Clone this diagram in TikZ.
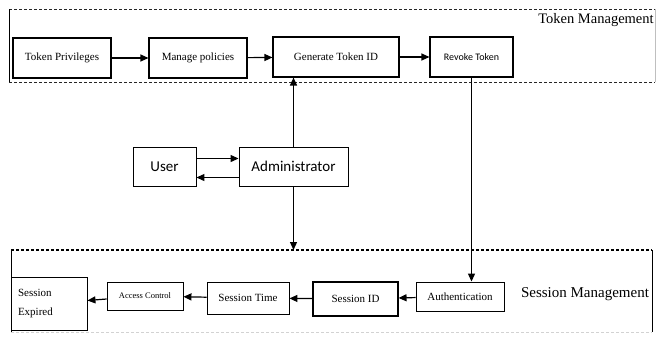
\documentclass[tikz,border=0pt]{standalone}
\usepackage{fontspec}
\setmainfont{Liberation Serif}
\newfontfamily\calibrifont{Carlito}
\usetikzlibrary{arrows.meta}

\begin{document}
\begin{tikzpicture}[
    x=1pt,y=-1pt,
    box/.style={draw,line width=1.1pt,inner sep=0pt,
        font=\fontsize{11}{13}\selectfont},
    arr/.style={-{Triangle[length=8pt,width=7pt]},line width=1.2pt},
    title/.style={inner sep=0pt,font=\fontsize{14.5}{17}\selectfont}]
    \useasboundingbox (0,0) rectangle (656,338);
    % token management frame
    \draw[densely dashed,gray!30!black,line width=.8pt]
        (9,9) -- (655,9) (9,82) -- (655,82);
    \draw[line width=.8pt] (9,9) -- (9,82);
    \draw[gray!50,line width=.6pt] (655,9) -- (655,82);
    % session management frame
    \draw[line width=1.2pt,dash pattern=on 3pt off 2pt] (11,250) -- (652,250);
    \draw[line width=.8pt] (11,250) -- (11,332) (652,250) -- (652,332);
    \draw[gray!35,densely dashed] (11,332) -- (652,332);
    \coordinate (sestop) at (0,250);
    % token row
    \node[box,minimum width=98pt,minimum height=40pt] (tokpriv) at (62,58)
        {Token Privileges};
    \node[box,minimum width=98pt,minimum height=40pt] (manpol) at (198,58)
        {Manage policies};
    \node[box,minimum width=126pt,minimum height=40pt] (gentok) at (336,57)
        {Generate Token ID};
    \node[box,minimum width=83pt,minimum height=40pt,
        font=\calibrifont\fontsize{10}{12}\selectfont] (revtok) at (471.5,57)
        {Revoke Token};
    \node[title] (tokman) at (596,20) {Token Management};
    % user and administrator
    \node[box,line width=.9pt,minimum width=63pt,minimum height=39pt,
        font=\calibrifont\fontsize{15}{18}\selectfont] (user) at (164.5,166.5) {User};
    \node[box,line width=.9pt,minimum width=109pt,minimum height=39pt,
        font=\calibrifont\fontsize{15}{18}\selectfont] (admin) at (293.5,166.5)
        {Administrator};
    % session row
    \node[box,line width=.9pt,minimum width=76pt,minimum height=53pt,align=left,
        text width=62pt,font=\fontsize{11}{19}\selectfont] (sesexp) at (49,303.5)
        {Session\\Expired};
    \node[box,line width=.9pt,minimum width=76pt,minimum height=28pt,
        font=\fontsize{8.5}{10}\selectfont] (acccon) at (145,296) {Access Control};
    \node[box,line width=.9pt,minimum width=82pt,minimum height=32pt] (sestime)
        at (248,298) {Session Time};
    \node[box,minimum width=85pt,minimum height=34pt] (sesid) at (355.5,299)
        {Session ID};
    \node[box,line width=.9pt,minimum width=88pt,minimum height=29pt] (auth)
        at (460,296.5) {Authentication};
    \node[title,font=\fontsize{15}{18}\selectfont] (sesman) at (585,294)
        {Session Management};
    % connectors
    \draw[arr] (tokpriv) -- (manpol);
    \draw[arr] (manpol) -- (gentok);
    \draw[arr] (gentok) -- (revtok);
    \draw[arr] ([yshift=8pt]user.east) -- ([yshift=8pt]user.east -| admin.west);
    \draw[arr] ([yshift=-11pt]admin.west) -- ([yshift=-11pt]admin.west -| user.east);
    \draw[arr] (admin.north) -- (admin.north |- gentok.south);
    \draw[arr] (admin.south) -- (admin.south |- sestop);
    \draw[arr] (revtok.south) -- (revtok.south |- auth.north);
    \draw[arr] (auth) -- (sesid);
    \draw[arr] (sesid) -- (sestime);
    \draw[arr] (sestime) -- (acccon);
    \draw[arr] (acccon) -- (sesexp);
\end{tikzpicture}
\end{document}
